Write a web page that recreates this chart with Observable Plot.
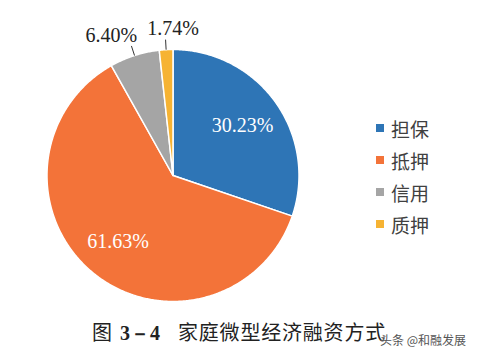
<!DOCTYPE html>
<html><head><meta charset="utf-8">
<script src="https://cdn.jsdelivr.net/npm/d3@7"></script>
<script src="https://cdn.jsdelivr.net/npm/@observablehq/plot@0.6"></script>
<style>
body{margin:0;background:#fff;width:477px;height:359px;overflow:hidden;position:relative;font-family:"Noto Sans CJK SC",sans-serif;}
#legend{position:absolute;left:376px;top:112px;}
.row{display:flex;align-items:center;height:32px;font-size:19px;color:#404040;}
.sw{width:8px;height:8px;margin-right:7px;}
#caption{position:absolute;left:92px;top:317px;font-size:20px;color:#222;white-space:nowrap;}
#caption .num{font-family:"Liberation Serif",serif;font-weight:bold;margin:0 18px 0 8px;}
#caption .t{letter-spacing:0.8px;}
#wm{position:absolute;left:380px;top:331px;font-size:12px;color:#555;text-shadow:0 0 2px #fff;white-space:nowrap;}
</style></head>
<body>
<div id="chart"></div>
<div id="legend"></div>
<div id="caption">图<span class="num">3－4</span><span class="t">家庭微型经济融资方式</span></div>
<div id="wm">头条 @和融发展</div>
<script>
const categories = ["担保", "抵押", "信用", "质押"];
const shares = [30.23, 61.63, 6.40, 1.74];
const labels = ["30.23%", "61.63%", "6.40%", "1.74%"];
const colors = ["#2E75B6", "#F37339", "#A5A5A5", "#F6B333"];

const arcs = d3.pie().sort(null).value(d => d)(shares);
const polar = (a, r) => [r * Math.sin(a), r * Math.cos(a)];

const slicePts = [];
arcs.forEach((a, i) => {
  slicePts.push({name: categories[i], x: 0, y: 0});
  const n = Math.max(2, Math.ceil((a.endAngle - a.startAngle) / (Math.PI / 360)));
  for (let k = 0; k <= n; k++) {
    const t = a.startAngle + (a.endAngle - a.startAngle) * k / n;
    const [x, y] = polar(t, 1);
    slicePts.push({name: categories[i], x, y});
  }
});

const R = 126; // pixel radius
const inside = [], outside = [], leaders = [];
const nudge = {"信用": [-20, -10], "质押": [7.5, -11]};
arcs.forEach((a, i) => {
  const mid = (a.startAngle + a.endAngle) / 2;
  if (shares[i] > 10) {
    const [x, y] = polar(mid, 0.68);
    inside.push({x, y, text: labels[i]});
  } else {
    const [x1, y1] = polar(mid, 1.0);
    const [x2, y2] = polar(mid, 1.08);
    leaders.push({x1, y1, x2, y2});
    const [dx, dy] = nudge[categories[i]] || [0, -10];
    outside.push({x: x2 + dx / R, y: y2 - dy / R, text: labels[i]});
  }
});

const chart = Plot.plot({
  width: 477, height: 317,
  margin: 0,
  x: {domain: [-1, 1], range: [172.5 - R, 172.5 + R], axis: null},
  y: {domain: [-1, 1], range: [175 + R, 175 - R], axis: null},
  color: {domain: categories, range: colors},
  marks: [
    Plot.line(slicePts, {x: "x", y: "y", z: "name", fill: "name", stroke: "white", strokeWidth: 1.5, curve: "linear-closed"}),
    Plot.link(leaders, {x1: "x1", y1: "y1", x2: "x2", y2: "y2", stroke: "#333", strokeWidth: 1}),
    Plot.text(inside, {x: "x", y: "y", text: "text", fill: "white", fontSize: 20, fontFamily: "Liberation Serif"}),
    Plot.text(outside, {x: "x", y: "y", text: "text", fill: "#222", fontSize: 20, fontFamily: "Liberation Serif"})
  ]
});
document.getElementById("chart").appendChild(chart);

const lg = document.getElementById("legend");
categories.forEach((c, i) => {
  const row = document.createElement("div");
  row.className = "row";
  row.innerHTML = `<span class="sw" style="background:${colors[i]}"></span><span>${c}</span>`;
  lg.appendChild(row);
});
</script>
</body></html>
